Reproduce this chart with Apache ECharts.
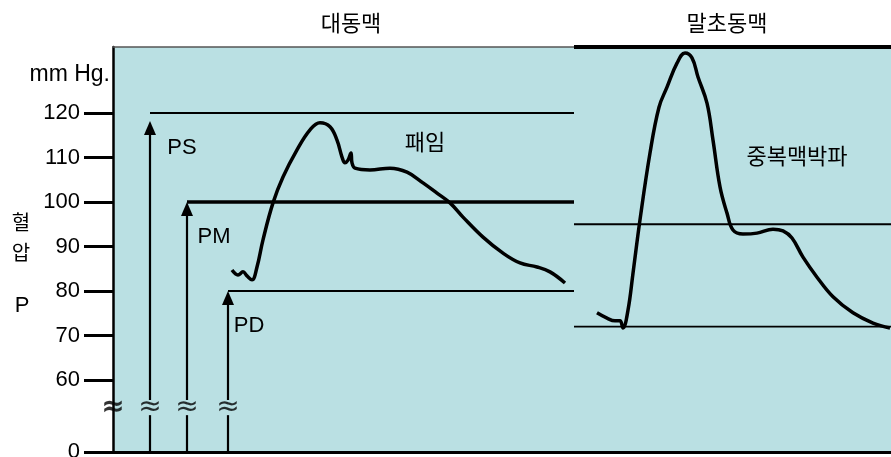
<!DOCTYPE html>
<html>
<head>
<meta charset="utf-8">
<script src="https://cdn.jsdelivr.net/npm/echarts@6/dist/echarts.min.js"></script>
<style>
  html, body { margin: 0; padding: 0; background: #fff; }
  #chart { width: 891px; height: 457px; }
</style>
</head>
<body>
<div id="chart"></div>
<script>
// 시간축(임의 단위)과 혈압(mmHg) 값
var aortaT = [119, 125, 130, 134, 139, 144, 150, 160, 170, 184, 197, 207, 217, 224, 229, 232, 235, 238, 239, 242, 257, 277, 294, 310, 324, 337, 350, 370, 390, 407, 424, 437, 452];
var aortaP = [84.7, 83.6, 84.3, 83.4, 82.5, 85.4, 91.5, 99.8, 105.6, 111.7, 116.2, 117.8, 116.9, 113.9, 110.1, 108.8, 109.4, 111.0, 108.8, 107.6, 107.2, 107.6, 106.7, 104.3, 102.0, 99.8, 96.6, 92.1, 88.5, 86.3, 85.4, 84.3, 81.8];

var periT = [484, 494, 502, 507, 510, 515, 520, 527, 537, 546, 554, 564, 572, 579, 585, 594, 600, 607, 614, 620, 630, 644, 660, 670, 679, 690, 704, 720, 740, 760, 777];
var periP = [75.1, 73.9, 73.3, 73.3, 71.7, 75.7, 84.0, 96.0, 111.0, 121.3, 125.8, 131.2, 133.5, 132.4, 128.1, 122.2, 113.9, 103.4, 97.5, 93.7, 92.8, 93.0, 93.9, 93.5, 91.9, 87.6, 83.1, 78.7, 75.1, 72.8, 71.7];

var yTicks = [60, 70, 80, 90, 100, 110, 120];
var AXIS_ZERO = 43.82;   // 축 절단 아래의 0 위치
var AXIS_TOP = 134.83;
var T_MAX = 778;
var T_SPLIT = 461;       // 대동맥 / 말초동맥 경계

var refNames = ['PS', 'PM', 'PD'];
var refLevel = [120, 100, 80];
var refStart = [37, 74, 115];
var arrowHead = [116.6, 98.4, 78.4];
var periLevel = [95, 72];

var breakLow = 52.1, breakMid = 53.7, breakHigh = 55.5;
var breakT = [0, 37, 74, 115];

function pairs(xs, ys) {
  return xs.map(function (x, i) { return [x, ys[i]]; });
}

var chart = echarts.init(document.getElementById('chart'));

var series = [];

series.push({
  type: 'line', data: pairs(aortaT, aortaP), smooth: 0.4, symbol: 'none',
  lineStyle: { color: '#000', width: 3.5 }, silent: true
});
series.push({
  type: 'line', data: pairs(periT, periP), smooth: 0.4, symbol: 'none',
  lineStyle: { color: '#000', width: 3.5 }, silent: true
});

refNames.forEach(function (n, i) {
  series.push({
    type: 'line', data: [[refStart[i], refLevel[i]], [T_SPLIT, refLevel[i]]], symbol: 'none',
    lineStyle: { color: '#000', width: n === 'PM' ? 3.5 : 1.8 }, silent: true
  });
});
periLevel.forEach(function (v) {
  series.push({
    type: 'line', data: [[T_SPLIT, v], [T_MAX, v]], symbol: 'none',
    lineStyle: { color: '#000', width: 1.8 }, silent: true
  });
});
// 말초동맥 위 굵은 선
series.push({
  type: 'line', data: [[T_SPLIT, AXIS_TOP], [T_MAX, AXIS_TOP]], symbol: 'none', clip: false,
  lineStyle: { color: '#000', width: 4 }, silent: true
});

// 화살표 (절단 아래/위)
series.push({
  type: 'line', data: [], silent: true,
  markLine: {
    silent: true, animation: false, symbol: ['none', 'none'], label: { show: false },
    lineStyle: { color: '#000', width: 2.2, type: 'solid' },
    data: refStart.map(function (x) { return [{ coord: [x, AXIS_ZERO] }, { coord: [x, breakLow] }]; })
  }
});
series.push({
  type: 'line', data: [], silent: true,
  markLine: {
    silent: true, animation: false, symbol: ['none', 'triangle'], symbolSize: [12, 14],
    label: { show: false },
    lineStyle: { color: '#000', width: 2.2, type: 'solid' },
    data: refStart.map(function (x, i) { return [{ coord: [x, breakHigh] }, { coord: [x, arrowHead[i]] }]; })
  }
});

// 절단 표시
series.push({
  type: 'scatter', symbolSize: 1, itemStyle: { color: 'rgba(0,0,0,0)' }, clip: false, silent: true,
  data: breakT.map(function (x, i) {
    return {
      value: [x, breakMid],
      label: { fontWeight: i === 0 ? 'bold' : 'normal' }
    };
  }),
  label: {
    show: true, position: 'inside', formatter: '\u2248',
    fontSize: 28, color: '#000', fontFamily: 'DejaVu Sans'
  }
});

var latin = '"Liberation Sans", Arial, sans-serif';
var kr = '"Noto Sans CJK KR", sans-serif';

function txt(text, x, y, font, align) {
  return {
    type: 'text', x: x, y: y, silent: true,
    style: { text: text, font: font, fill: '#000', align: align || 'center', verticalAlign: 'middle' }
  };
}

chart.setOption({
  animation: false,
  grid: {
    left: 113, right: 0, top: 47, bottom: 5, outerBoundsMode: 'none',
    show: true, backgroundColor: '#bae0e3', borderWidth: 0
  },
  xAxis: [{
    type: 'value', min: 0, max: T_MAX, position: 'bottom',
    axisLine: { show: true, lineStyle: { color: '#000', width: 3 } },
    axisTick: { show: false }, axisLabel: { show: false }, splitLine: { show: false }
  }, {
    type: 'value', min: 0, max: T_MAX, position: 'top',
    axisLine: { show: true, lineStyle: { color: '#555', width: 1.5 } },
    axisTick: { show: false }, axisLabel: { show: false }, splitLine: { show: false }
  }],
  yAxis: {
    type: 'value', min: AXIS_ZERO, max: AXIS_TOP,
    axisLine: { show: true, lineStyle: { color: '#000', width: 2.5 } },
    axisTick: { show: true, length: 29, customValues: [AXIS_ZERO].concat(yTicks), lineStyle: { color: '#000', width: 3 } },
    axisLabel: {
      show: true, customValues: [AXIS_ZERO].concat(yTicks), margin: 33,
      fontSize: 22, fontFamily: 'Liberation Sans', color: '#000',
      formatter: function (v) { return v < 50 ? '0' : String(v); }
    },
    splitLine: { show: false }
  },
  graphic: [
    txt('대동맥', 351, 23, '22px ' + kr),
    txt('말초동맥', 727, 23, '22px ' + kr),
    txt('mm Hg.', 110, 75, '23px ' + latin, 'right'),
    txt('혈', 21, 222, '20px ' + kr),
    txt('압', 21, 252, '20px ' + kr),
    txt('P', 22, 306, '22px ' + latin),
    txt('PS', 182, 148, '22px ' + latin),
    txt('PM', 214, 237, '22px ' + latin),
    txt('PD', 249, 326, '22px ' + latin),
    txt('패임', 425, 142, '22px ' + kr),
    txt('중복맥박파', 797, 156, '22px ' + kr)
  ],
  series: series
});
</script>
</body>
</html>
